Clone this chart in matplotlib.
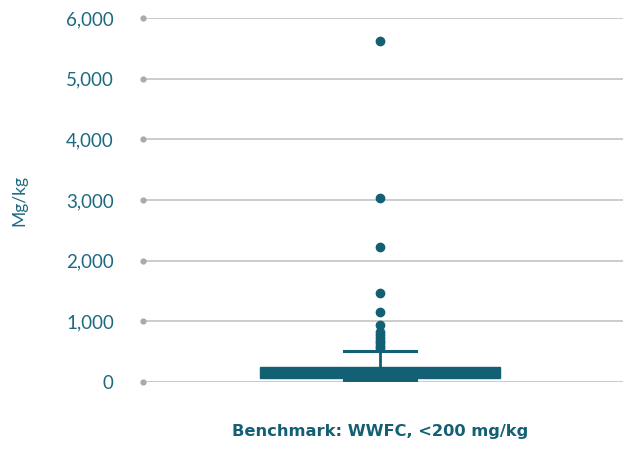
import matplotlib
matplotlib.use('Agg')
import matplotlib.pyplot as plt

# summary of the distribution (mg/kg)
category = 'Benchmark: WWFC, <200 mg/kg'
whisker_low = 30
q1 = 61
median = 150
q3 = 252
whisker_high = 516
outliers = [5620, 3035, 2225, 1470, 1150, 945, 830, 780, 730, 680, 640, 600, 560]
y_ticks = [0, 1000, 2000, 3000, 4000, 5000, 6000]

teal = '#135f73'
label_col = '#1d6a80'
grid_col = '#c4c4c4'

plt.rcParams['font.family'] = ['Lato', 'DejaVu Sans']

fig = plt.figure(figsize=(6.27, 4.5), dpi=100)
ax = fig.add_axes([143 / 627, 68 / 450, 480 / 627, 364 / 450])

stats = [{
    'whislo': whisker_low, 'q1': q1, 'med': median, 'q3': q3,
    'whishi': whisker_high, 'fliers': outliers, 'label': category,
}]
ax.bxp(stats, positions=[0], widths=0.5, patch_artist=True,
       boxprops=dict(facecolor=teal, edgecolor=teal, linewidth=1),
       medianprops=dict(color=teal, linewidth=1),
       whiskerprops=dict(color=teal, linewidth=2),
       capprops=dict(color=teal, linewidth=2.2),
       capwidths=0.15,
       flierprops=dict(marker='o', markerfacecolor=teal, markeredgecolor=teal,
                       markersize=6))

ax.set_xlim(-0.494, 0.506)
ax.set_ylim(0, 6000)
ax.set_yticks(y_ticks)
ax.set_yticklabels([f'{v:,}' for v in y_ticks], fontsize=13.5, color=label_col)
ax.set_xticks([])
ax.yaxis.grid(True, color=grid_col, linewidth=1.2)
ax.set_axisbelow(True)
for s in ax.spines.values():
    s.set_visible(False)
ax.tick_params(axis='y', length=0, pad=21)

# small dots at the left end of each gridline
ax.scatter([-0.494] * len(y_ticks), y_ticks, s=12, color='#aaaaaa', zorder=1, clip_on=False)

ax.set_ylabel('Mg/kg', fontsize=12.5, color=label_col)
ax.yaxis.set_label_coords(-0.24, 0.5)
ax.set_xlabel(category, fontsize=11.7, fontweight='bold', color=teal,
              family=['DejaVu Sans'])
ax.xaxis.set_label_coords(0.495, -0.115)

fig.savefig('out.png', dpi=100)
plt.close(fig)
